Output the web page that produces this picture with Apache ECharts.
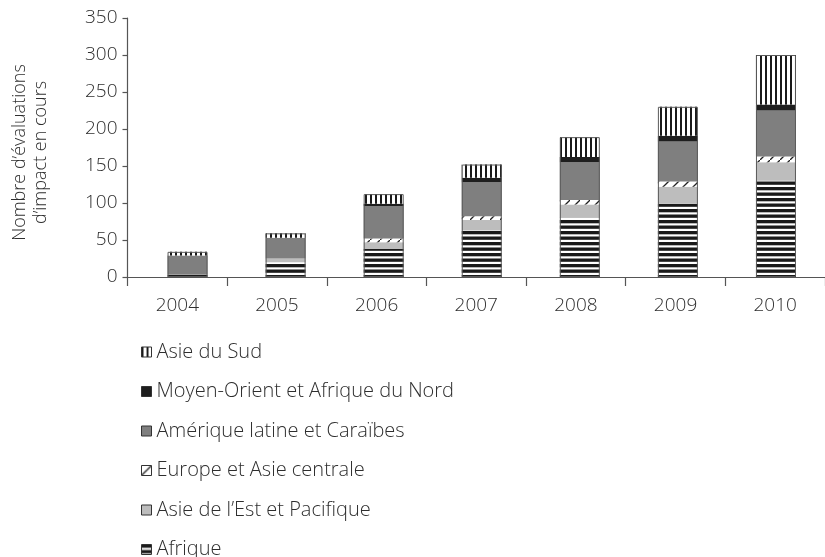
<!DOCTYPE html>
<html>
<head>
<meta charset="utf-8">
<script src="https://cdn.jsdelivr.net/npm/echarts@6/dist/echarts.min.js"></script>
<style>
  html, body { margin: 0; padding: 0; background: #fff; }
  #chart { width: 825px; height: 557px; }
</style>
</head>
<body>
<div id="chart"></div>
<script>
// Impact evaluations in progress, by region and year
const years = ['2004', '2005', '2006', '2007', '2008', '2009', '2010'];
const yTicks = [0, 50, 100, 150, 200, 250, 300, 350];

const afrique        = [3, 20, 38, 63, 80, 99, 130];
const asieEst        = [0, 5, 9, 14, 18, 23, 25];
const europeAsieC    = [0, 0, 5, 5, 6, 7, 8];
const ameriqueLatine = [26, 28, 44, 46, 51, 54, 62];
const moyenOrient    = [0, 0, 3, 6, 7, 8, 8];
const asieSud        = [5, 6, 13, 18, 27, 39, 67];

const seriesNames = [
  'Afrique',
  'Asie de l\u2019Est et Pacifique',
  'Europe et Asie centrale',
  'Am\u00e9rique latine et Cara\u00efbes',
  'Moyen-Orient et Afrique du Nord',
  'Asie du Sud'
];
const seriesData = [afrique, asieEst, europeAsieC, ameriqueLatine, moyenOrient, asieSud];

// Fill patterns drawn on small canvases
function tile(w, h, draw) {
  const c = document.createElement('canvas');
  c.width = w; c.height = h;
  const g = c.getContext('2d');
  g.fillStyle = '#ffffff';
  g.fillRect(0, 0, w, h);
  draw(g);
  return { image: c, repeat: 'repeat' };
}
const hStripes = tile(11, 11, g => {
  g.fillStyle = '#1a1a1a';
  g.fillRect(0, 0, 11, 3.3);
  g.fillRect(0, 5.5, 11, 3.3);
});
const vStripes = tile(10, 10, g => {
  g.fillStyle = '#1a1a1a';
  g.fillRect(0, 0, 2, 10);
  g.fillRect(5, 0, 2, 10);
});
const diagHatch = tile(10, 10, g => {
  g.strokeStyle = '#222';
  g.lineWidth = 1.3;
  g.beginPath();
  g.moveTo(-1, 11); g.lineTo(11, -1);
  g.stroke();
});

const fills = [hStripes, '#bdbdbd', diagHatch, '#7f7f7f', '#1e1e1e', vStripes];

const totals = years.map((_, i) => seriesData.reduce((s, arr) => s + arr[i], 0));

const FONT = '"Open Sans", "Liberation Sans", sans-serif';
const TEXT = '#2e2e2e';
const AXIS = '#555555';

const gridBase = { top: 18, height: 259, width: 705.6 };

const series = seriesNames.map((name, k) => ({
  name,
  type: 'bar',
  stack: 'regions',
  xAxisIndex: 1,
  yAxisIndex: 1,
  barWidth: 40,
  barGap: '-100%',
  data: seriesData[k],
  itemStyle: { color: fills[k] },
  emphasis: { disabled: true }
}));
series.push({
  name: 'total',
  type: 'bar',
  xAxisIndex: 1,
  yAxisIndex: 1,
  barWidth: 40,
  barGap: '-100%',
  z: 5,
  silent: true,
  data: totals,
  itemStyle: { color: 'rgba(0,0,0,0)', borderColor: '#5a5a5a', borderWidth: 1 }
});

const chart = echarts.init(document.getElementById('chart'), null, { renderer: 'canvas' });
chart.setOption({
  animation: false,
  backgroundColor: '#ffffff',
  textStyle: { fontFamily: FONT },
  grid: [
    Object.assign({ left: 127.5 }, gridBase),
    Object.assign({ left: 138.5 }, gridBase)
  ],
  xAxis: [
    {
      type: 'category',
      gridIndex: 0,
      data: years,
      boundaryGap: true,
      axisLine: { lineStyle: { color: AXIS, width: 1.2 } },
      axisTick: { show: true, length: 9, lineStyle: { color: AXIS, width: 1.2 } },
      axisLabel: { color: TEXT, fontSize: 19, fontWeight: 300, margin: 19, fontFamily: FONT }
    },
    {
      type: 'category',
      gridIndex: 1,
      data: years,
      show: false
    }
  ],
  yAxis: [
    {
      type: 'value',
      gridIndex: 0,
      min: yTicks[0],
      max: yTicks[yTicks.length - 1],
      interval: 50,
      splitLine: { show: false },
      axisLine: { show: true, lineStyle: { color: AXIS, width: 1.2 } },
      axisTick: { show: true, length: 5, lineStyle: { color: AXIS, width: 1.2 } },
      axisLabel: { color: TEXT, fontSize: 19, fontWeight: 300, margin: 10, fontFamily: FONT },
      name: 'Nombre d\u2019\u00e9valuations\nd\u2019impact en cours',
      nameLocation: 'middle',
      nameRotate: 90,
      nameGap: 76,
      nameTextStyle: { color: TEXT, fontSize: 18, fontWeight: 300, lineHeight: 21, padding: [0, 10, 0, 0], fontFamily: FONT }
    },
    {
      type: 'value',
      gridIndex: 1,
      min: yTicks[0],
      max: yTicks[yTicks.length - 1],
      interval: 50,
      show: false,
      splitLine: { show: false }
    }
  ],
  legend: {
    orient: 'vertical',
    left: 141,
    top: 342,
    height: 320,
    padding: 0,
    itemWidth: 10,
    itemHeight: 10,
    itemGap: 19.5,
    icon: 'rect',
    selectedMode: false,
    data: seriesNames.slice().reverse(),
    itemStyle: { borderColor: '#333', borderWidth: 1 },
    textStyle: { color: TEXT, fontSize: 20, fontWeight: 300, lineHeight: 18, fontFamily: FONT }
  },
  series
});
</script>
</body>
</html>
